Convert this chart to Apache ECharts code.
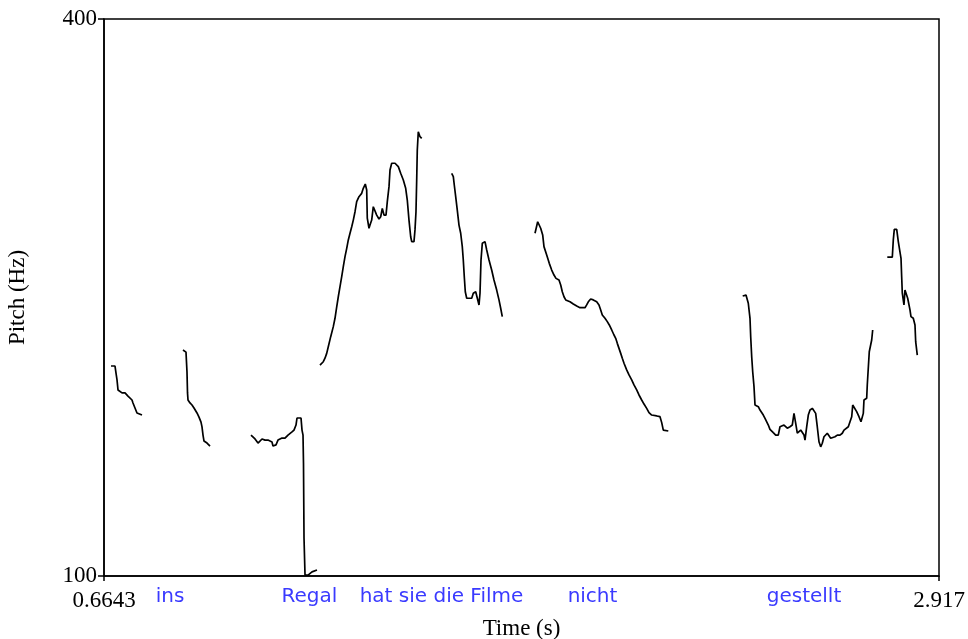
<!DOCTYPE html>
<html>
<head>
<meta charset="utf-8">
<script src="https://cdn.jsdelivr.net/npm/echarts@6/dist/echarts.min.js"></script>
<style>
html,body{margin:0;padding:0;background:#fff;}
#chart{width:968px;height:639px;}
</style>
</head>
<body>
<div id="chart"></div>
<script>
// Axis range and tick labels
var xTicks = [0.6643, 2.917];
var yTicks = [100, 400];

// Word annotations (time positions in s)
var wordLabels = ['ins', 'Regal', 'hat sie die Filme', 'nicht', 'gestellt'];
var wordTimes = [0.8424, 1.2185, 1.5748, 1.9822, 2.5528];

// Pitch contour segments: time (s) and pitch (Hz)
var seg1T = [0.6832,0.6940,0.6967,0.6994,0.7021,0.7129,0.7210,0.7290,0.7398,0.7425,0.7479,0.7533,0.7668];
var seg1F = [213.1,213.1,209.3,205.6,200.2,198.6,198.6,196.9,194.8,193.2,190.5,187.8,186.7];

var seg2T = [0.8774,0.8855,0.8882,0.8896,0.8909,0.8963,0.9017,0.9071,0.9152,0.9206,0.9260,0.9287,0.9314,0.9341,0.9422,0.9503];
var seg2F = [221.7,220.6,209.9,198.6,194.8,193.2,192.1,190.5,187.8,185.6,182.9,180.3,175.9,172.7,171.6,170.0];

var seg3T = [1.0609,1.0717,1.0798,1.0906,1.0987,1.1067,1.1175,1.1202,1.1283,1.1337,1.1445,1.1526,1.1607,1.1715,1.1742,1.1769,1.1823,1.1850,1.1958,1.1985,1.2012,1.2025,1.2039,1.2066,1.2147,1.2255,1.2389];
var seg3F = [175.9,173.8,171.6,173.8,173.2,173.2,172.2,170.0,170.6,173.2,174.3,174.3,175.9,177.6,177.0,178.6,181.3,185.1,185.1,178.6,175.9,160.9,120.5,100.5,100.5,102.2,103.2];

var seg4T = [1.2470,1.2559,1.2605,1.2651,1.2694,1.2759,1.2829,1.2875,1.2921,1.2964,1.3010,1.3056,1.3099,1.3145,1.3191,1.3234,1.3280,1.3326,1.3369,1.3415,1.3460,1.3522,1.3595,1.3638,1.3692,1.3730,1.3746,1.3792,1.3819,1.3865,1.3908,1.3954,1.4000,1.4062,1.4108,1.4151,1.4197,1.4251,1.4286,1.4332,1.4359,1.4405,1.4494,1.4583,1.4647,1.4718,1.4782,1.4825,1.4871,1.4917,1.4944,1.5006,1.5033,1.5060,1.5079,1.5095,1.5122,1.5168,1.5214];
var seg4F = [213.6,215.4,217.3,219.9,223.5,228.9,234.3,238.8,245.0,250.4,255.8,261.2,266.6,272.0,276.5,281.0,284.6,288.1,291.7,296.2,301.6,304.3,306.1,308.8,311.1,307.9,292.7,287.3,289.0,291.7,298.9,298.0,294.4,292.3,293.5,298.0,294.4,294.4,301.6,309.7,318.7,322.3,322.3,320.5,316.9,313.3,308.8,302.5,291.7,282.7,280.1,280.1,286.4,296.2,313.3,329.4,339.3,336.6,335.7];

var seg5T = [1.6023,1.6067,1.6093,1.6131,1.6174,1.6220,1.6266,1.6309,1.6336,1.6363,1.6390,1.6428,1.6563,1.6606,1.6671,1.6714,1.6760,1.6787,1.6814,1.6849,1.6922,1.6968,1.7030,1.7102,1.7164,1.7237,1.7299,1.7345,1.7388];
var seg5F = [316.9,315.1,310.6,304.3,297.1,289.0,284.6,277.4,270.2,261.2,253.1,249.6,249.6,252.3,253.1,252.3,246.0,252.3,270.2,279.2,280.1,275.6,270.2,264.8,259.4,254.0,248.7,244.2,239.7];

var seg6T = [1.8271,1.8316,1.8343,1.8378,1.8424,1.8478,1.8513,1.8586,1.8656,1.8721,1.8783,1.8837,1.8918,1.8964,1.9007,1.9053,1.9099,1.9215,1.9304,1.9396,1.9485,1.9619,1.9665,1.9709,1.9773,1.9843,1.9935,1.9997,2.0043,2.0086,2.0159,2.0221,2.0275,2.0340,2.0402,2.0448,2.0491,2.0537,2.0583,2.0626,2.0672,2.0744,2.0807,2.0879,2.0941,2.1014,2.1076,2.1149,2.1211,2.1284,2.1346,2.1419,2.1554,2.1643,2.1689,2.1732,2.1867];
var seg6F = [284.6,284.6,290.8,290.0,287.3,283.7,277.4,272.9,268.4,264.8,262.1,260.3,259.4,256.7,253.1,250.4,248.7,247.7,246.5,245.4,244.5,244.5,246.0,247.7,249.2,248.7,247.7,246.0,243.3,240.6,238.8,237.0,235.2,232.5,229.8,228.0,225.3,222.6,219.9,217.3,214.6,211.0,208.3,205.6,202.9,200.2,197.5,194.8,192.6,190.3,188.0,186.7,186.2,185.8,182.6,178.6,178.1];

var seg7T = [2.3874,2.3963,2.3998,2.4025,2.4071,2.4090,2.4117,2.4144,2.4179,2.4206,2.4252,2.4295,2.4341,2.4387,2.4430,2.4476,2.4521,2.4565,2.4610,2.4656,2.4699,2.4764,2.4834,2.4880,2.4926,2.4988,2.5034,2.5077,2.5150,2.5212,2.5258,2.5304,2.5347,2.5393,2.5439,2.5482,2.5528,2.5555,2.5601,2.5644,2.5690,2.5752,2.5797,2.5843,2.5886,2.5932,2.5978,2.6021,2.6067,2.6113,2.6156,2.6202,2.6248,2.6291,2.6364,2.6426,2.6499,2.6561,2.6607,2.6653,2.6723,2.6769,2.6815,2.6842,2.6877,2.6949,2.7011,2.7065,2.7101,2.7128,2.7146,2.7219,2.7235,2.7262,2.7289,2.7335,2.7354,2.7381];
var seg7F = [250.8,251.3,250.4,246.9,238.8,228.9,218.1,210.0,202.0,192.1,191.6,191.2,189.4,188.5,186.7,184.9,184.0,181.3,179.0,178.3,177.2,175.9,175.9,180.4,181.3,181.3,180.4,179.6,180.4,181.3,187.6,182.2,176.9,175.9,178.6,177.7,175.9,173.2,180.4,186.7,189.4,190.3,191.2,187.6,180.4,172.3,169.6,171.5,175.0,175.9,176.9,176.9,174.2,173.2,175.0,175.9,175.9,176.9,178.6,177.7,180.4,183.1,185.8,192.1,191.2,188.5,185.8,183.1,182.2,187.6,194.8,195.7,202.9,211.9,220.8,221.7,227.1,232.5];

var seg8T = [2.7775,2.7910,2.7937,2.7964,2.8029,2.8072,2.8118,2.8145,2.8163,2.8180,2.8207,2.8225,2.8252,2.8298,2.8325,2.8360,2.8387,2.8414,2.8476,2.8522,2.8541,2.8568,2.8584];
var seg8F = [271.7,271.7,281.0,286.7,286.7,280.1,279.2,271.1,261.2,252.3,251.3,246.0,254.0,254.0,249.6,248.7,243.3,239.7,238.8,235.2,226.2,225.3,219.0];

var segments = [
  [seg1T, seg1F], [seg2T, seg2F], [seg3T, seg3F], [seg4T, seg4F],
  [seg5T, seg5F], [seg6T, seg6F], [seg7T, seg7F], [seg8T, seg8F]
];

var serifFont = '"Liberation Serif", "DejaVu Serif", serif';
var sansFont = '"DejaVu Sans", sans-serif';

var series = segments.map(function (s) {
  var d = [];
  var n = Math.min(s[0].length, s[1].length);
  for (var i = 0; i < n; i++) d.push([s[0][i], s[1][i]]);
  return {
    type: 'line',
    xAxisIndex: 0,
    yAxisIndex: 0,
    data: d,
    showSymbol: false,
    symbol: 'none',
    silent: true,
    animation: false,
    clip: true,
    lineStyle: { color: '#000', width: 1.7 }
  };
});

var chart = echarts.init(document.getElementById('chart'), null, { renderer: 'canvas' });
chart.setOption({
  animation: false,
  backgroundColor: '#fff',
  grid: {
    left: 104, right: 29, top: 19, bottom: 63,
    containLabel: false,
    outerBoundsMode: 'none',
    show: true, borderColor: '#000', borderWidth: 1.5, backgroundColor: 'transparent'
  },
  xAxis: [{
    type: 'value',
    min: xTicks[0], max: xTicks[xTicks.length - 1],
    position: 'bottom',
    name: 'Time (s)',
    nameLocation: 'middle',
    nameGap: 41,
    nameTextStyle: { fontFamily: serifFont, fontSize: 23, color: '#000' },
    axisLine: { show: true, onZero: false, lineStyle: { color: '#000', width: 1.5 } },
    axisTick: { show: true, length: 5, customValues: xTicks, lineStyle: { color: '#000', width: 1.5 } },
    axisLabel: {
      show: true, customValues: xTicks, margin: 13,
      fontFamily: serifFont, fontSize: 23, color: '#000',
      showMinLabel: true, showMaxLabel: true,
      formatter: function (v) { return String(v); }
    },
    splitLine: { show: false }
  }, {
    type: 'value',
    min: xTicks[0], max: xTicks[xTicks.length - 1],
    position: 'bottom',
    offset: 0,
    axisLine: { show: false, onZero: false },
    axisTick: { show: false },
    axisLabel: {
      show: true, customValues: wordTimes, margin: 11,
      fontFamily: sansFont, fontSize: 20, color: '#3a3aff',
      showMinLabel: true, showMaxLabel: true,
      formatter: function (v) {
        for (var i = 0; i < wordTimes.length; i++) {
          if (Math.abs(wordTimes[i] - v) < 1e-6) return wordLabels[i];
        }
        return '';
      }
    },
    splitLine: { show: false }
  }],
  yAxis: [{
    type: 'value',
    min: yTicks[0], max: yTicks[yTicks.length - 1],
    name: 'Pitch (Hz)',
    nameLocation: 'middle',
    nameGap: 75,
    nameRotate: 90,
    nameTextStyle: { fontFamily: serifFont, fontSize: 23, color: '#000' },
    axisLine: { show: true, onZero: false, lineStyle: { color: '#000', width: 1.5 } },
    axisTick: { show: true, length: 6, customValues: yTicks, lineStyle: { color: '#000', width: 1.5 } },
    axisLabel: {
      show: true, customValues: yTicks, margin: 7,
      fontFamily: serifFont, fontSize: 23, color: '#000',
      showMinLabel: true, showMaxLabel: true
    },
    splitLine: { show: false }
  }],
  series: series
});
</script>
</body>
</html>
